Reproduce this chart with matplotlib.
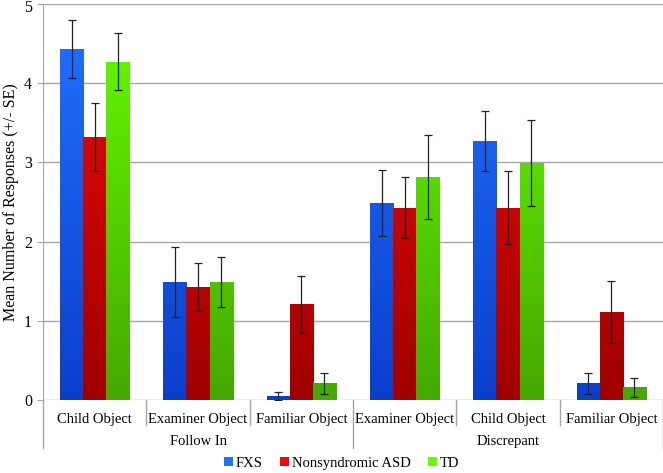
import numpy as np
import matplotlib
matplotlib.use("Agg")
import matplotlib.pyplot as plt
from matplotlib.colors import LinearSegmentedColormap
import matplotlib.transforms as mtransforms

categories = ["Child Object", "Examiner Object", "Familiar Object",
              "Examiner Object", "Child Object", "Familiar Object"]
groups = ["Follow In", "Discrepant"]
series = ["FXS", "Nonsyndromic ASD", "TD"]
fxs = [4.43, 1.49, 0.055, 2.49, 3.27, 0.21]
fxs_se = [0.37, 0.44, 0.05, 0.42, 0.38, 0.13]
asd = [3.32, 1.43, 1.21, 2.43, 2.43, 1.11]
asd_se = [0.43, 0.30, 0.36, 0.39, 0.46, 0.39]
td = [4.27, 1.49, 0.21, 2.82, 2.99, 0.16]
td_se = [0.36, 0.31, 0.13, 0.53, 0.54, 0.12]
yticks = [0, 1, 2, 3, 4, 5]

top_colors = ["#2272ff", "#ee0a0a", "#66ff00"]
bottom_colors = ["#0a3fcc", "#a00000", "#45a800"]

plt.rcParams['font.family'] = ['Liberation Serif', 'DejaVu Serif']

fig = plt.figure(figsize=(6.63, 4.73), dpi=100)
ax = fig.add_axes([43/663, 73/473, 620/663, 396/473])

x = np.arange(len(categories))
w = 0.223
vals = [fxs, asd, td]
ses = [fxs_se, asd_se, td_se]
handles = []
for i, (v, s) in enumerate(zip(vals, ses)):
    pos = x + (i - 1) * w
    bars = ax.bar(pos, v, width=w, color=top_colors[i], zorder=2, label=series[i], linewidth=0)
    cmap = LinearSegmentedColormap.from_list("g%d" % i, [bottom_colors[i], top_colors[i]])
    grad = np.linspace(0, 1, 256).reshape(-1, 1)
    for b in bars:
        bx, bw, bh = b.get_x(), b.get_width(), b.get_height()
        im = ax.imshow(grad, extent=[bx, bx + bw, 0, 5], origin='lower', aspect='auto',
                       cmap=cmap, zorder=2.5, interpolation='bilinear')
        im.set_clip_path(b)
    ax.errorbar(pos, v, yerr=s, fmt='none', ecolor='#222222', elinewidth=0.9,
                capsize=2.8, capthick=0.9, zorder=4)
    handles.append(bars)

ax.set_xlim(-0.5, len(categories) - 0.5)
ax.set_ylim(0, 5)
ax.set_yticks(yticks)
ax.set_yticklabels([str(t) for t in yticks], fontsize=11.5)
ax.yaxis.grid(True, color='#a6a6a6', linewidth=1.0, zorder=0)
ax.set_axisbelow(True)
for sp in ['top', 'right', 'bottom']:
    ax.spines[sp].set_visible(False)
ax.spines['left'].set_color('#a6a6a6')
ax.spines['left'].set_bounds(0, 5)
ax.tick_params(axis='y', length=4, color='#a6a6a6', pad=4)
ax.set_xticks(x)
ax.set_xticklabels(categories, fontsize=10.5)
ax.tick_params(axis='x', length=0, pad=9)
ax.set_ylabel("Mean Number of Responses (+/- SE)", fontsize=11.5)
ax.yaxis.set_label_coords(-0.038, 0.5)

# keep the top tick label inside the figure
top_lbl = ax.get_yticklabels()[-1]
top_lbl.set_verticalalignment('top')
top_lbl.set_transform(top_lbl.get_transform() +
                      mtransforms.ScaledTranslation(0, 3/72, fig.dpi_scale_trans))

trans = mtransforms.blended_transform_factory(ax.transData, ax.transAxes)
for b in [0.5, 1.5, 3.5, 4.5]:
    ax.plot([b, b], [0, -0.063], transform=trans, color='#a6a6a6', lw=1.0, clip_on=False)
for b in [-0.5, 2.5, 5.5]:
    ax.plot([b, b], [0, -0.121], transform=trans, color='#a6a6a6', lw=1.0, clip_on=False)
ax.text(1.0, -0.104, groups[0], transform=trans, ha='center', va='center', fontsize=10.5)
ax.text(4.0, -0.104, groups[1], transform=trans, ha='center', va='center', fontsize=10.5)

fig.legend(handles=handles, labels=series, loc='center', bbox_to_anchor=(0.515, 10/473),
           ncol=3, frameon=False, fontsize=10.5, handlelength=0.6, handleheight=0.6,
           handletextpad=0.2, columnspacing=1.2)

fig.savefig("out.png", dpi=100)
